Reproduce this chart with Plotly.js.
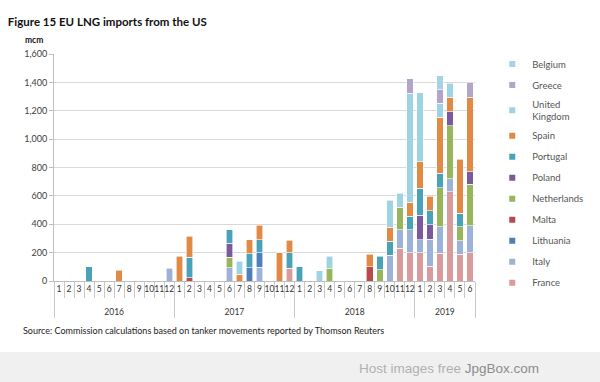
<!DOCTYPE html>
<html>
<head>
<meta charset="utf-8">
<script src="https://cdn.plot.ly/plotly-3.0.1.min.js"></script>
<style>
  html, body { margin: 0; padding: 0; background: #ffffff; }
  #chart { width: 600px; height: 382px; }
</style>
</head>
<body>
<div id="chart"></div>
<script>
// ---- Data (mcm), months Jan 2016 .. Jun 2019 ----
const years = ['2016', '2017', '2018', '2019'];
const monthsPerYear = [12, 12, 12, 6];

const countries = ['France', 'Italy', 'Lithuania', 'Malta', 'Netherlands', 'Poland',
                   'Portugal', 'Spain', 'United Kingdom', 'Greece', 'Belgium'];

//                 2016                                   2017                                         2018                                          2019
const France      = [0,0,0,0,0,0,0,0,0,0,0,0,   0,0,0,0,0,0,0,0,0,0,0,90,    0,0,0,0,0,0,0,0,0,0,230,200,   200,105,195,630,190,200];
const Italy       = [0,0,0,0,0,0,0,0,0,0,0,90,  0,0,0,0,0,92,0,0,96,0,0,0,   0,0,0,0,0,0,0,0,0,180,130,160,  90,190,188,90,92,188];
const Lithuania   = [0,0,0,0,0,0,0,0,0,0,0,0,   0,0,0,0,0,0,0,92,104,0,0,0,  0,0,0,0,0,0,0,0,0,0,0,0,        0,0,0,0,0,0];
const Malta       = [0,0,0,0,0,0,0,0,0,0,0,0,   0,24,0,0,0,0,0,0,0,0,0,0,    0,0,0,0,0,0,0,100,0,0,0,0,      0,0,0,0,0,0];
const Netherlands = [0,0,0,0,0,0,0,0,0,0,0,0,   0,0,0,0,0,77,0,0,0,0,0,0,    0,0,0,87,0,0,0,0,80,0,160,0,    0,0,275,374,101,294];
const Poland      = [0,0,0,0,0,0,0,0,0,0,0,0,   0,0,0,0,0,97,0,0,0,0,0,0,    0,0,0,0,0,0,0,0,0,0,0,0,        175,100,0,100,0,89];
const Portugal    = [0,0,0,100,0,0,0,0,0,0,0,0, 0,143,0,0,0,96,0,99,92,0,0,109, 100,0,0,0,0,0,0,0,95,100,0,95, 190,100,100,0,94,0];
const Spain       = [0,0,0,0,0,0,75,0,0,0,0,0,  176,148,0,0,0,0,47,101,101,0,200,89, 0,0,0,0,0,0,0,90,0,100,0,100, 186,103,395,100,381,525];
const UK          = [0,0,0,0,0,0,0,0,0,0,0,0,   0,0,0,0,0,0,94,0,0,0,0,0,    0,0,73,87,0,0,0,0,0,190,100,770, 485,0,100,100,0,0];
const Greece      = [0,0,0,0,0,0,0,0,0,0,0,0,   0,0,0,0,0,0,0,0,0,0,0,0,     0,0,0,0,0,0,0,0,0,0,0,100,      0,0,94,0,0,104];
const Belgium     = [0,0,0,0,0,0,0,0,0,0,0,0,   0,0,0,0,0,0,0,0,0,0,0,0,     0,0,0,0,0,0,0,0,0,0,0,0,        0,0,99,0,0,0];

const seriesValues = [France, Italy, Lithuania, Malta, Netherlands, Poland, Portugal, Spain, UK, Greece, Belgium];
const legendNames = ['France', 'Italy', 'Lithuania', 'Malta', 'Netherlands', 'Poland',
                     'Portugal', 'Spain', 'United<br>Kingdom', 'Greece', 'Belgium'];
const colors = ['#d99a9c', '#9db2d8', '#4f7fba', '#b84a4d', '#98b55c', '#7a5a9c',
                '#4aa2b8', '#e08a45', '#9dd3e2', '#b2a5c9', '#a6d2e4'];

// ---- Build multicategory x (month label gets a blank second line for row spacing) ----
const xYear = [], xMonth = [];
years.forEach((y, i) => {
  for (let m = 1; m <= monthsPerYear[i]; m++) { xYear.push(y); xMonth.push(String(m) + '<br>\u00a0'); }
});

const FONT = 'Lato, "Liberation Sans", Arial, sans-serif';

const traces = [];
seriesValues.forEach((vals, i) => {
  traces.push({
    type: 'bar',
    name: countries[i],
    x: [xYear, xMonth],
    y: vals.map(v => v === 0 ? null : v),
    marker: { color: colors[i], line: { color: '#ffffff', width: 0.6 } },
    showlegend: false,
    hoverinfo: 'name+y'
  });
});
// legend entries (small square keys), top = Belgium
for (let i = seriesValues.length - 1; i >= 0; i--) {
  traces.push({
    type: 'scatter', mode: 'markers',
    name: legendNames[i],
    x: [null], y: [null],
    xaxis: 'x2', yaxis: 'y2',
    legendgroup: 'g' + i,
    marker: { symbol: 'square', size: 6, color: colors[i] },
    showlegend: true
  });
}

const layout = {
  width: 600, height: 382,
  margin: { l: 54, r: 81, t: 54, b: 101 },
  paper_bgcolor: '#ffffff', plot_bgcolor: '#ffffff',
  font: { family: FONT, size: 9, color: '#404040' },
  barmode: 'stack',
  bargap: 0.35,
  title: {
    text: '<b>Figure 15 EU LNG imports from the US</b>',
    xref: 'container', yref: 'container',
    x: 0.013, xanchor: 'left',
    y: 1 - 22 / 382, yanchor: 'middle',
    font: { family: FONT, size: 11.5, color: '#111111' }
  },
  xaxis: {
    type: 'multicategory',
    showgrid: false,
    showline: true, linecolor: '#bfbfbf', linewidth: 1,
    tickmode: 'linear', tick0: 0, dtick: 1, tickangle: 0,
    ticks: 'outside', tickson: 'boundaries', ticklen: 16, tickcolor: '#c8c8c8',
    showdividers: true, dividercolor: '#c8c8c8', dividerwidth: 1,
    tickfont: { family: FONT, size: 8.5, color: '#333333' },
    fixedrange: true
  },
  yaxis: {
    range: [0, 1600], dtick: 200, tickformat: ',',
    showgrid: true, gridcolor: '#d9d9d9', gridwidth: 1,
    zeroline: false,
    showline: true, linecolor: '#bfbfbf', linewidth: 1,
    ticks: 'outside', ticklen: 4, tickcolor: '#bfbfbf',
    tickfont: { family: FONT, size: 9, color: '#404040' },
    fixedrange: true
  },
  xaxis2: { overlaying: 'x', visible: false, range: [0, 1] },
  yaxis2: { overlaying: 'y', visible: false, range: [0, 1] },
  legend: {
    x: 1.041, xanchor: 'left', y: 1.02, yanchor: 'top',
    traceorder: 'grouped',
    tracegroupgap: 2,
    itemwidth: 30,
    maxheight: 330,
    font: { family: FONT, size: 9.5, color: '#555555' },
    bgcolor: 'rgba(0,0,0,0)'
  },
  shapes: [{
    type: 'rect', xref: 'paper', yref: 'paper', layer: 'below',
    x0: -0.2, x1: 1.3, y0: (281 - 352) / 227, y1: -0.7,
    fillcolor: '#f0f0f0', line: { width: 0 }
  }],
  annotations: [
    {
      text: '<b>mcm</b>', xref: 'paper', yref: 'paper',
      x: (20 - 54) / 465, y: (281 - 40) / 227, xanchor: 'left', yanchor: 'middle',
      showarrow: false, font: { family: FONT, size: 8.5, color: '#111111' }
    },
    {
      text: 'Source: Commission calculations based on tanker movements reported by Thomson Reuters',
      xref: 'paper', yref: 'paper',
      x: (17 - 54) / 465, y: (281 - 330) / 227, xanchor: 'left', yanchor: 'middle',
      showarrow: false, font: { family: FONT, size: 9, color: '#222222' }
    },
    {
      text: 'Host images free <span style="color:#8c8c8c">JpgBox.com</span>',
      xref: 'paper', yref: 'paper',
      x: (592 - 54) / 465, y: (281 - 368) / 227, xanchor: 'right', yanchor: 'middle',
      showarrow: false, font: { family: '"Liberation Sans", Arial, sans-serif', size: 13.5, color: '#b0b0b0' }
    }
  ]
};

Plotly.newPlot('chart', traces, layout, { displayModeBar: false, staticPlot: true });
</script>
</body>
</html>
